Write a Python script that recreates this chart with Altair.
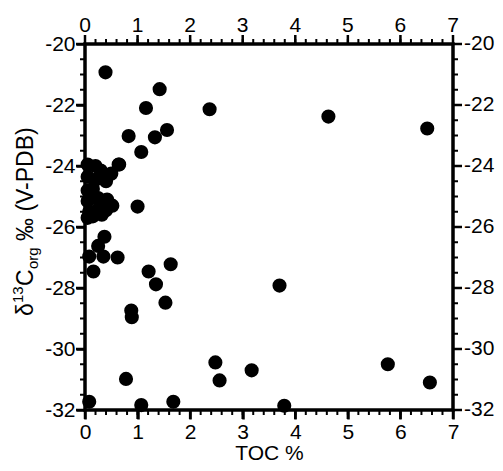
import altair as alt
import pandas as pd

# TOC (%) and d13C org (permil) values
toc = [0.39, 1.42, 1.16, 2.37, 4.63, 6.51, 0.83, 1.56, 1.33, 1.07, 0.64, 1.00,
       0.37, 0.25, 0.08, 0.35, 0.62, 0.16, 1.21, 1.35, 1.63, 1.53, 0.88, 0.89,
       0.78, 0.08, 1.07, 1.68, 3.70, 2.48, 2.56, 3.17, 3.79, 5.76, 6.56,
       0.05, 0.20, 0.30, 0.65, 0.50, 0.40, 0.05, 0.20, 0.05, 0.15,
       0.05, 0.25, 0.42, 0.52, 0.08, 0.28, 0.40, 0.15, 0.05, 0.32]
d13c = [-20.93, -21.48, -22.10, -22.14, -22.38, -22.77, -23.02, -22.82, -23.06, -23.54, -23.95, -25.33,
        -26.32, -26.62, -26.97, -26.97, -27.00, -27.46, -27.46, -27.88, -27.22, -28.48, -28.74, -28.96,
        -30.98, -31.73, -31.84, -31.73, -27.92, -30.44, -31.03, -30.70, -31.86, -30.50, -31.10,
        -23.95, -24.00, -24.15, -23.95, -24.25, -24.50, -24.35, -24.45, -24.80, -24.75,
        -25.15, -25.05, -25.10, -25.30, -25.50, -25.35, -25.45, -25.65, -25.70, -25.60]

x_major = [0, 1, 2, 3, 4, 5, 6, 7]
x_labels = ["0", "1", "2", "3", "4", "5", "6", "7"]
x_minor = [round(i * 0.2, 1) for i in range(36)]
y_major = [-20, -22, -24, -26, -28, -30, -32]
y_labels = ["-20", "-22", "-24", "-26", "-28", "-30", "-32"]
y_minor = [-20 - i * 0.5 for i in range(25)]

W, H = 368, 366
FONT = "Liberation Sans"
LFS = 21
MAJ, MIN = 9, 5
MAJW, MINW = 2.5, 2.0
INK = "#000000"
df = pd.DataFrame({"toc": toc, "d13c": d13c})
xs = alt.Scale(domain=[0, 7], nice=False, zero=False)
ys = alt.Scale(domain=[-32, -20], nice=False, zero=False)

# y-axis title built from pieces (superscript 13, subscript org)
one = pd.DataFrame({"a": [0]})
pieces = [
    ("\u03b4", 23, 0, 13.0),
    ("13", 15, -10, 17.0),
    ("C", 23, 0, 17.0),
    ("org", 15, 5, 28.0),
    ("\u2030 (V-PDB)", 23, 0, 115.0),
]
total = sum(p[3] for p in pieces)
start_y = 177 + total / 2
base_x = -52
title_layers = []
cur = start_y
for txt, fs, dx, w in pieces:
    title_layers.append(
        alt.Chart(one).mark_text(text=txt, angle=270, fontSize=fs, font=FONT, color=INK,
                                 align="left", baseline="alphabetic").encode(
            x=alt.value(base_x + dx), y=alt.value(cur))
    )
    cur -= w

pts = alt.Chart(df).mark_circle(size=200, color=INK, opacity=1).encode(
    x=alt.X("toc:Q", scale=xs, axis=alt.Axis(
        values=x_major, grid=False, domain=False, ticks=True, tickSize=MAJ, tickWidth=MAJW,
        tickColor=INK, tickOpacity=1,
        labelFont=FONT, labelFontSize=LFS, labelColor=INK, labelPadding=2,
        labelExpr="'' + datum.value", labelFlush=False, labelOverlap=False,
        title="TOC %", titleFont=FONT, titleFontSize=21, titleFontWeight="normal",
        titleColor=INK, titlePadding=0)),
    y=alt.Y("d13c:Q", scale=ys, axis=alt.Axis(
        values=y_major, grid=False, domain=False, ticks=True, tickSize=MAJ, tickWidth=MAJW,
        tickColor=INK, tickOpacity=1,
        labelFont=FONT, labelFontSize=LFS, labelColor=INK, labelPadding=1,
        labelExpr="'' + datum.value", labelFlush=False, labelOverlap=False,
        title=None)),
)

xmaj = pd.DataFrame({"v": x_major, "lab": x_labels})
xmin = pd.DataFrame({"v": x_minor})
ymaj = pd.DataFrame({"v": y_major, "lab": y_labels})
ymin = pd.DataFrame({"v": y_minor})


def xticks(d, y0, y1, w):
    return alt.Chart(d).mark_rule().encode(
        x=alt.X("v:Q", scale=xs), y=alt.value(y0), y2=alt.value(y1),
        color=alt.value(INK), strokeWidth=alt.value(w), opacity=alt.value(1))


def yticks(d, x0, x1, w):
    return alt.Chart(d).mark_rule().encode(
        y=alt.Y("v:Q", scale=ys), x=alt.value(x0), x2=alt.value(x1),
        color=alt.value(INK), strokeWidth=alt.value(w), opacity=alt.value(1))


ticks = [
    xticks(xmaj, H, H + MAJ, MAJW), xticks(xmin, H, H + MIN, MINW),
    xticks(xmaj, 0, -MAJ, MAJW), xticks(xmin, 0, -MIN, MINW),
    yticks(ymaj, 0, -MAJ, MAJW), yticks(ymin, 0, -MIN, MINW),
    yticks(ymaj, W, W + MAJ, MAJW), yticks(ymin, W, W + MIN, MINW),
]

top_labels = alt.Chart(xmaj).mark_text(font=FONT, fontSize=LFS, color=INK,
                                        align="center", baseline="alphabetic").encode(
    x=alt.X("v:Q", scale=xs), y=alt.value(-12), text="lab:N")
right_labels = alt.Chart(ymaj).mark_text(font=FONT, fontSize=LFS, color=INK,
                                          align="left", baseline="middle").encode(
    y=alt.Y("v:Q", scale=ys), x=alt.value(W + 11), text="lab:N")

chart = alt.layer(pts, *ticks, top_labels, right_labels, *title_layers).properties(
    width=W, height=H,
    autosize=alt.AutoSizeParams(type="none"),
    padding={"left": 77, "top": 36, "right": 42, "bottom": 53},
).configure_view(stroke=INK, strokeWidth=3.5)

chart.save("out.html", embed_options={"renderer": "svg", "actions": False})
